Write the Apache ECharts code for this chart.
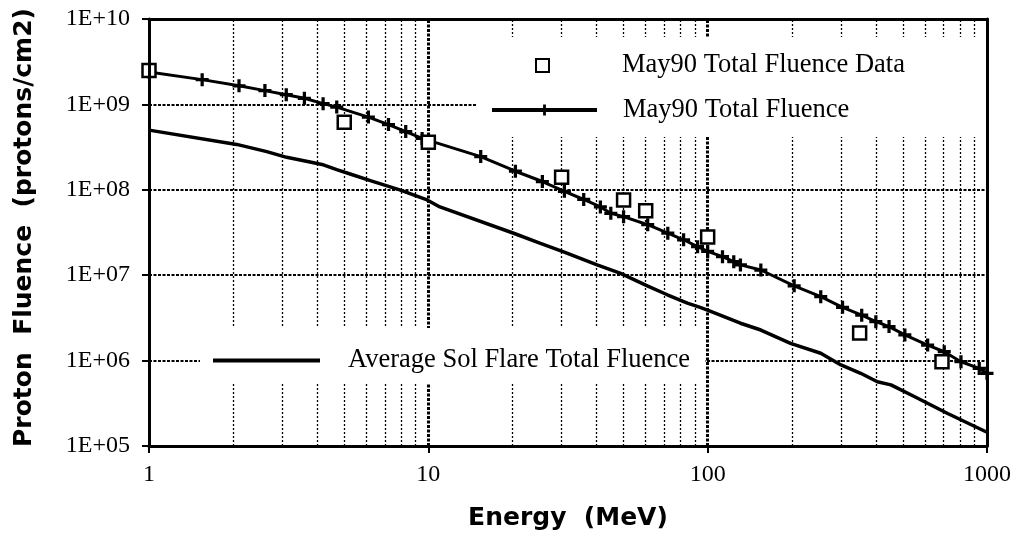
<!DOCTYPE html>
<html>
<head>
<meta charset="utf-8">
<script src="https://cdn.jsdelivr.net/npm/echarts@6/dist/echarts.min.js"></script>
<style>
html,body{margin:0;padding:0;background:#fff;}
#chart{width:1016px;height:541px;}
</style>
</head>
<body>
<div id="chart"></div>
<script>
// ---- data ----
const xTickValues = [1, 10, 100, 1000];
const yTickExponents = [5, 6, 7, 8, 9, 10];

const dataEnergy = [1, 5, 10, 30, 50, 60, 100, 350, 690];
const dataFluence = [2.5e9, 6.2e8, 3.6e8, 1.4e8, 7.6e7, 5.7e7, 2.8e7, 2.1e6, 9.7e5];

const may90Energy = [1, 1.55, 2.1, 2.6, 3.1, 3.6, 4.2, 4.7, 6.1, 7.2, 8.3, 9.5, 15.4, 20.5, 25.6, 30.7, 36, 41.3, 45, 50, 61, 72, 82, 92, 100, 113, 124, 131, 155, 204, 254, 304, 356, 400, 446, 508, 613, 703, 807, 938, 1000];
const may90Fluence = [2.4e9, 1.95e9, 1.65e9, 1.45e9, 1.3e9, 1.18e9, 1.02e9, 9.3e8, 7.1e8, 5.8e8, 4.8e8, 4.0e8, 2.45e8, 1.65e8, 1.25e8, 9.6e7, 7.7e7, 6.3e7, 5.3e7, 4.85e7, 3.9e7, 3.1e7, 2.6e7, 2.16e7, 1.9e7, 1.65e7, 1.44e7, 1.32e7, 1.15e7, 7.5e6, 5.6e6, 4.2e6, 3.4e6, 2.86e6, 2.5e6, 2.0e6, 1.52e6, 1.27e6, 9.7e5, 8.1e5, 7.1e5];

const avgEnergy = [1, 2.06, 2.64, 3.11, 3.77, 4.16, 4.7, 5.25, 6.2, 7.9, 9.9, 11, 20.2, 25.2, 30.5, 40.2, 48.8, 60.8, 71.7, 84.6, 94, 102, 131, 155, 198, 254, 300, 353, 405, 453, 549, 723, 1000];
const avgFluence = [5.0e8, 3.4e8, 2.8e8, 2.4e8, 2.12e8, 1.98e8, 1.72e8, 1.53e8, 1.28e8, 1.0e8, 7.6e7, 6.3e7, 3.1e7, 2.36e7, 1.88e7, 1.32e7, 1.05e7, 7.5e6, 5.9e6, 4.7e6, 4.2e6, 3.8e6, 2.74e6, 2.28e6, 1.59e6, 1.22e6, 8.9e5, 7.1e5, 5.66e5, 5.2e5, 3.8e5, 2.4e5, 1.45e5];

const seriesNames = ['May90 Total Fluence Data', 'May90 Total Fluence', 'Average Sol Flare Total Fluence'];
const xTitle = 'Energy  (MeV)';
const yTitle = 'Proton  Fluence  (protons/cm2)';

// ---- gridline values (from the axis decades) ----
const minorX = [];
const majorX = [];
for (let d = 1; d <= 100; d *= 10) {
  for (let m = 2; m <= 9; m++) minorX.push(m * d);
  if (d > 1) majorX.push(d);
}
const hLines = yTickExponents.slice(1, -1).map(e => Math.pow(10, e));

const pair = (xs, ys) => xs.map((x, i) => [x, ys[i]]);

const serifFont = 'Liberation Serif';
const sansFont = 'DejaVu Sans';

const minorStyle = { color: '#000', width: 1.3, type: [2, 2] };
const majorStyle = { color: '#000', width: 3, type: [3, 1.5] };
const hStyle = { color: '#000', width: 2, type: [3, 1.5] };

const gridMarks = [].concat(
  minorX.map(v => ({ xAxis: v, lineStyle: minorStyle })),
  majorX.map(v => ({ xAxis: v, lineStyle: majorStyle })),
  hLines.map(v => ({ yAxis: v, lineStyle: hStyle }))
);

const plusPath = 'path://M3,0H5V3H8V5H5V8H3V5H0V3H3Z';
const barIcon = 'path://M0,0H107V4H0Z';

const chart = echarts.init(document.getElementById('chart'), null, { renderer: 'canvas' });

const legendFont = { fontFamily: serifFont, fontSize: 26.5, color: '#000' };

chart.setOption({
  animation: false,
  backgroundColor: '#fff',
  grid: { left: 149, right: 29, top: 19, bottom: 95 },
  xAxis: [{
    type: 'log', logBase: 10, min: 1, max: 1000, position: 'bottom', z: 5,
    name: xTitle, nameLocation: 'middle', nameGap: 60,
    nameTextStyle: { fontFamily: sansFont, fontWeight: 'bold', fontSize: 25, color: '#000' },
    axisLine: { lineStyle: { color: '#000', width: 3 } },
    axisTick: { show: true, length: 7, lineStyle: { color: '#000', width: 2 } },
    axisLabel: { margin: 17, fontFamily: serifFont, fontSize: 24, color: '#000',
      formatter: v => String(Math.round(v)) },
    splitLine: { show: false }, minorTick: { show: false }
  }, {
    type: 'log', logBase: 10, min: 1, max: 1000, position: 'top', z: 5,
    axisLine: { lineStyle: { color: '#000', width: 3 } },
    axisTick: { show: false }, axisLabel: { show: false }, splitLine: { show: false }
  }],
  yAxis: [{
    type: 'log', logBase: 10, min: 1e5, max: 1e10, position: 'left', z: 5,
    name: yTitle, nameLocation: 'middle', nameGap: 112,
    nameTextStyle: { fontFamily: sansFont, fontWeight: 'bold', fontSize: 25, color: '#000',
      padding: [0, 0, 0, 10] },
    axisLine: { lineStyle: { color: '#000', width: 3 } },
    axisTick: { show: true, length: 7, lineStyle: { color: '#000', width: 2 } },
    axisLabel: { margin: 19, fontFamily: serifFont, fontSize: 24, color: '#000',
      formatter: v => '1E+' + String(Math.round(Math.log10(v))).padStart(2, '0') },
    splitLine: { show: false }
  }, {
    type: 'log', logBase: 10, min: 1e5, max: 1e10, position: 'right', z: 5,
    axisLine: { lineStyle: { color: '#000', width: 3 } },
    axisTick: { show: false }, axisLabel: { show: false }, splitLine: { show: false }
  }],
  graphic: [
    { type: 'rect', z: 3, silent: true, shape: { x: 477, y: 37, width: 509, height: 100 }, style: { fill: '#fff' } },
    { type: 'rect', z: 3, silent: true, shape: { x: 200, y: 328, width: 505, height: 55 }, style: { fill: '#fff' } }
  ],
  legend: [
    { data: [seriesNames[0]], left: 535, top: 52, padding: 0, itemWidth: 13, itemHeight: 13, z: 4,
      selectedMode: false, textStyle: Object.assign({ padding: [0, 0, 0, 68] }, legendFont) },
    { data: [seriesNames[1]], left: 490, top: 96.5, padding: 0, itemWidth: 105, itemHeight: 14, z: 4,
      lineStyle: { width: 4 }, selectedMode: false,
      textStyle: Object.assign({ padding: [0, 0, 0, 21] }, legendFont) },
    { data: [{ name: seriesNames[2], icon: barIcon }], left: 213, top: 347, padding: 0,
      itemWidth: 107, itemHeight: 4, z: 4, selectedMode: false,
      textStyle: Object.assign({ padding: [0, 0, 0, 23] }, legendFont) }
  ],
  series: [
    {
      name: seriesNames[2], type: 'line', z: 2, data: pair(avgEnergy, avgFluence),
      symbol: 'none', lineStyle: { color: '#000', width: 3.5 }, itemStyle: { color: '#000' },
      markLine: { silent: true, z: 1, symbol: 'none', label: { show: false }, animation: false, data: gridMarks }
    },
    {
      name: seriesNames[1], type: 'line', z: 2, data: pair(may90Energy, may90Fluence),
      symbol: plusPath, symbolSize: 13, lineStyle: { color: '#000', width: 3 },
      itemStyle: { color: '#000' }
    },
    {
      name: seriesNames[0], type: 'scatter', z: 3, data: pair(dataEnergy, dataFluence),
      symbol: 'rect', symbolSize: 13,
      itemStyle: { color: '#fff', borderColor: '#000', borderWidth: 2.5, opacity: 1 }
    }
  ]
});
</script>
</body>
</html>
